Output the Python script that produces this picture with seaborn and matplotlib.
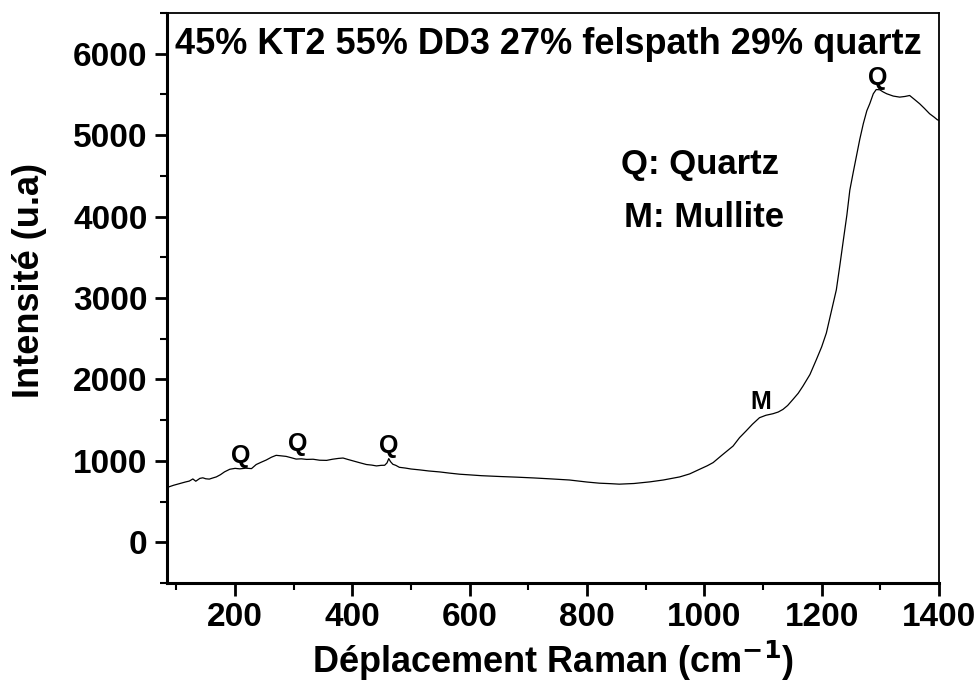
import matplotlib
matplotlib.use("Agg")
import matplotlib.pyplot as plt
import seaborn as sns
import pandas as pd

# Raman spectrum: wavenumber (cm-1) and intensity (a.u.)
wavenumber = [84, 95, 105, 115, 122, 128, 133, 140, 145, 150, 156, 162, 168, 175, 182,
              191, 200, 208, 218, 228, 236, 245, 253, 262, 270, 278, 287, 295, 304, 313,
              322, 333, 344, 356, 366, 376, 384, 392, 401, 412, 424, 433, 441, 449, 455,
              459, 462, 465, 469, 474, 480, 490, 500, 515, 530, 549, 565, 583, 600, 620,
              651, 680, 710, 740, 770, 800, 821, 840, 855, 880, 907, 930, 958, 975, 992,
              1005, 1015, 1030, 1049, 1060, 1071, 1082, 1094, 1105, 1117, 1126, 1134, 1142,
              1151, 1160, 1168, 1180, 1191, 1200, 1208, 1216, 1225, 1231, 1237, 1243, 1248,
              1254, 1259, 1265, 1271, 1277, 1282, 1288, 1293, 1299, 1305, 1311, 1322, 1333,
              1342, 1350, 1358, 1367, 1375, 1384, 1392, 1397, 1400]
intensity = [673, 700, 720, 740, 752, 778, 750, 785, 792, 780, 776, 790, 803, 830, 865,
             897, 908, 902, 910, 905, 955, 985, 1010, 1045, 1068, 1062, 1055, 1040, 1022, 1025,
             1018, 1020, 1008, 1006, 1020, 1030, 1035, 1018, 1000, 978, 955, 948, 938, 945, 946,
             975, 1028, 990, 958, 945, 921, 912, 900, 889, 876, 864, 850, 836, 828, 818,
             808, 800, 790, 778, 765, 740, 726, 720, 714, 722, 742, 765, 803, 840, 897,
             940, 979, 1070, 1182, 1285, 1366, 1450, 1530, 1560, 1579, 1600, 1632, 1680,
             1754, 1830, 1917, 2060, 2244, 2400, 2570, 2820, 3100, 3400, 3712, 4020, 4324,
             4550, 4732, 4950, 5141, 5300, 5386, 5508, 5560, 5557, 5530, 5508, 5480, 5467,
             5475, 5487, 5440, 5386, 5330, 5263, 5220, 5190, 5180]

# Peak assignments (label, x, y)
peak_labels = ["Q", "Q", "Q", "M", "Q"]
peak_x = [210, 307, 462, 1097, 1295]
peak_y = [1056, 1203, 1187, 1723, 5701]

title_text = "45% KT2 55% DD3 27% felspath 29% quartz"
legend_lines = ["Q: Quartz", "M: Mullite"]

sns.set_style("ticks")
plt.rcParams["font.family"] = ["Liberation Sans", "DejaVu Sans"]
plt.rcParams["font.weight"] = "bold"
plt.rcParams["mathtext.default"] = "bf"
for key in ["text.color", "axes.labelcolor", "xtick.color", "ytick.color", "axes.edgecolor"]:
    plt.rcParams[key] = "black"

df = pd.DataFrame({"wavenumber": wavenumber, "intensity": intensity})

fig = plt.figure(figsize=(9.78, 6.88), dpi=100)
ax = fig.add_axes([0.1708, 0.1526, 0.7893, 0.8285])

sns.lineplot(data=df, x="wavenumber", y="intensity", color="black", linewidth=0.9, ax=ax)

ax.set_xlim(84, 1400)
ax.set_ylim(-500, 6500)
ax.set_xticks(range(200, 1401, 200))
ax.set_xticks(range(100, 1401, 100), minor=True)
ax.set_yticks(range(0, 6001, 1000))
ax.set_yticks(range(-500, 6501, 500), minor=True)

for side in ["left", "bottom"]:
    ax.spines[side].set_linewidth(2.2)
for side in ["top", "right"]:
    ax.spines[side].set_linewidth(1.3)
    ax.spines[side].set_visible(True)

ax.tick_params(which="major", direction="out", length=9, width=2, labelsize=24, pad=5)
ax.tick_params(which="minor", direction="out", length=5, width=1.5)
for lab in ax.get_xticklabels() + ax.get_yticklabels():
    lab.set_fontweight("bold")

ax.set_xlabel("Déplacement Raman (cm$^{-1}$)", fontsize=26, fontweight="bold", labelpad=4)
ax.set_ylabel("Intensité (u.a)", fontsize=26, fontweight="bold")
ax.yaxis.set_label_coords(-0.155, 0.53)

ax.text(0.0104, 0.944, title_text, transform=ax.transAxes, fontsize=26,
        fontweight="bold", ha="left", va="center")

ax.text(992, 4640, legend_lines[0], fontsize=25, fontweight="bold", ha="center", va="center")
ax.text(1000, 3990, legend_lines[1], fontsize=25, fontweight="bold", ha="center", va="center")

for lab, px, py in zip(peak_labels, peak_x, peak_y):
    ax.text(px, py, lab, fontsize=18, fontweight="bold", ha="center", va="center")

fig.savefig("out.png", dpi=100)
